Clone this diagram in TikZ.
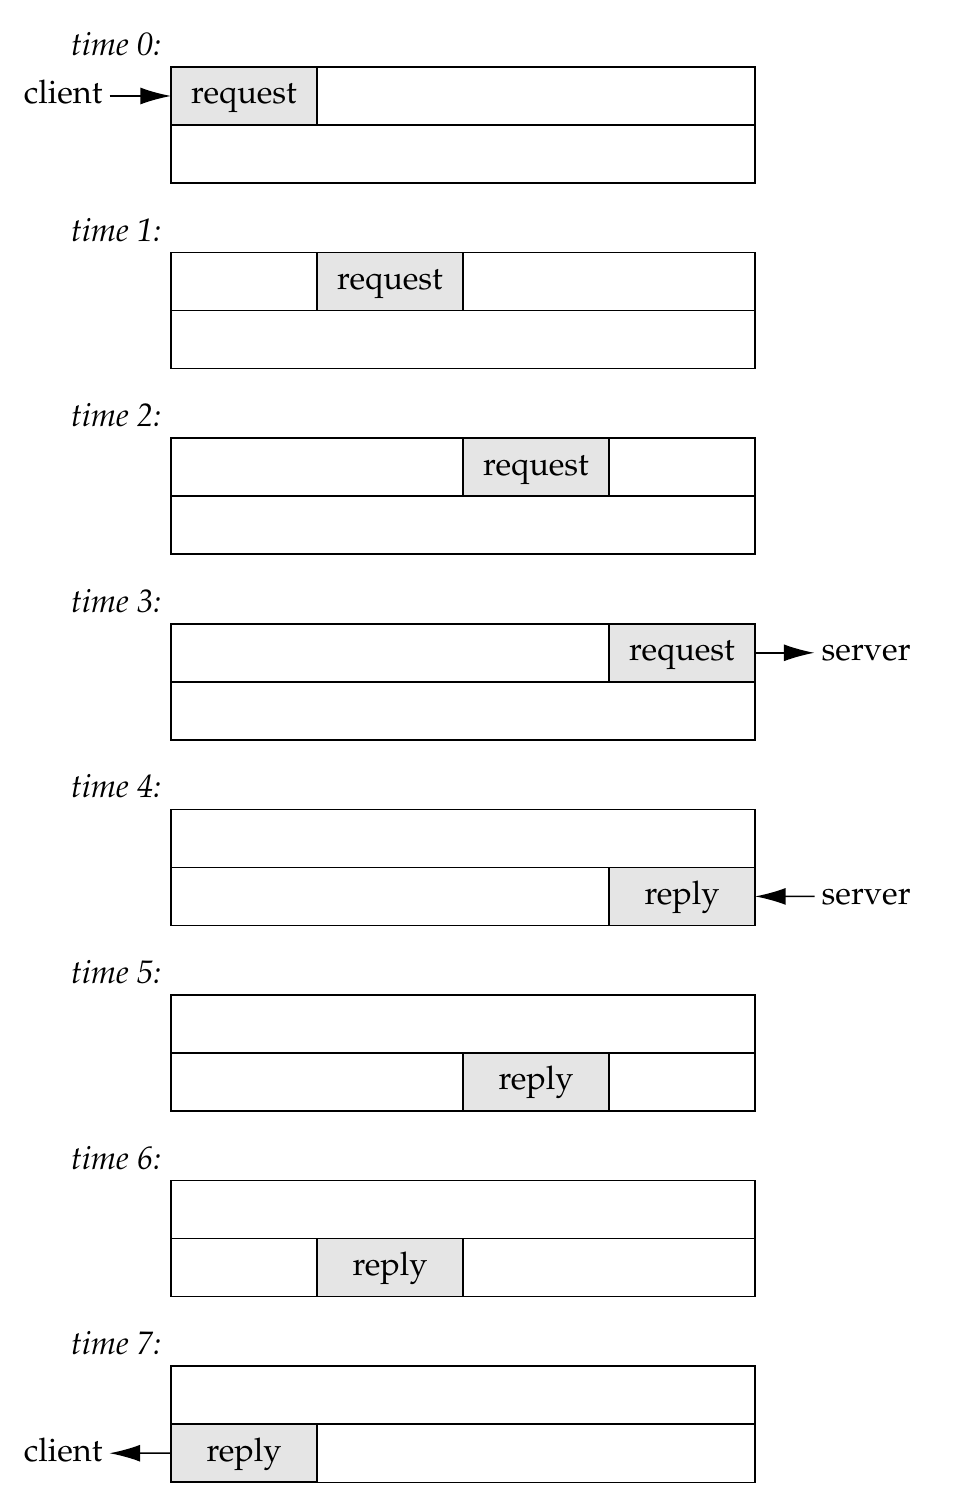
\documentclass[tikz,border=0pt]{standalone}
\usepackage[T1]{fontenc}
\usepackage{mathpazo}
\usepackage{tikz}
\usetikzlibrary{arrows.meta,positioning}
\tikzset{
	slot/.style={draw,line width=0.45pt,minimum width=179.7pt,minimum height=17.85pt,inner sep=0pt,outer sep=0pt},
	msg/.style={draw,line width=0.45pt,fill=gray!20,minimum width=44.92pt,minimum height=17.85pt,inner sep=0pt,outer sep=0pt,text height=7.6pt,text depth=2.7pt},
	tlabel/.style={anchor=east,inner sep=0pt,font=\itshape},
	endpt/.style={inner sep=2pt,text height=7.6pt,text depth=2.7pt},
	pipe/.style={line width=0.45pt,-{Latex[length=9.4pt,width=5.2pt]}}
}

\begin{document}
\begin{tikzpicture}[x=0.3077pt,y=-0.3077pt,font=\fontsize{10}{12}\selectfont]
	\useasboundingbox (0,0) rectangle (952,1512);
	% one pipe per time step: upper slot carries requests, lower slot replies
	\foreach \n/\r/\c/\txt in {0/0/0/request,1/0/1/request,2/0/2/request,3/0/3/request,4/1/3/reply,5/1/2/reply,6/1/1/reply,7/1/0/reply}{
		\node[tlabel] (time\n) at (162,44+185.6*\n) {time \n:};
		\node[slot] (up\n) at (463,96+185.6*\n) {};
		\node[slot,below=0pt of up\n] (down\n) {};
		\node[msg] (msg\n) at (244+146*\c,96+58*\r+185.6*\n) {\txt};
	}
	\node[endpt,anchor=east] (client0) at (109.5,96) {client};
	\node[endpt,anchor=west] (server3) at (814.5,652.8) {server};
	\node[endpt,anchor=west] (server4) at (814.5,896.4) {server};
	\node[endpt,anchor=east] (client7) at (109.5,1453.2) {client};
	\draw[pipe] (client0.east) -- (msg0.west);
	\draw[pipe] (msg3.east) -- (server3.west);
	\draw[pipe] (server4.west) -- (msg4.east);
	\draw[pipe] (msg7.west) -- (client7.east);
\end{tikzpicture}
\end{document}
